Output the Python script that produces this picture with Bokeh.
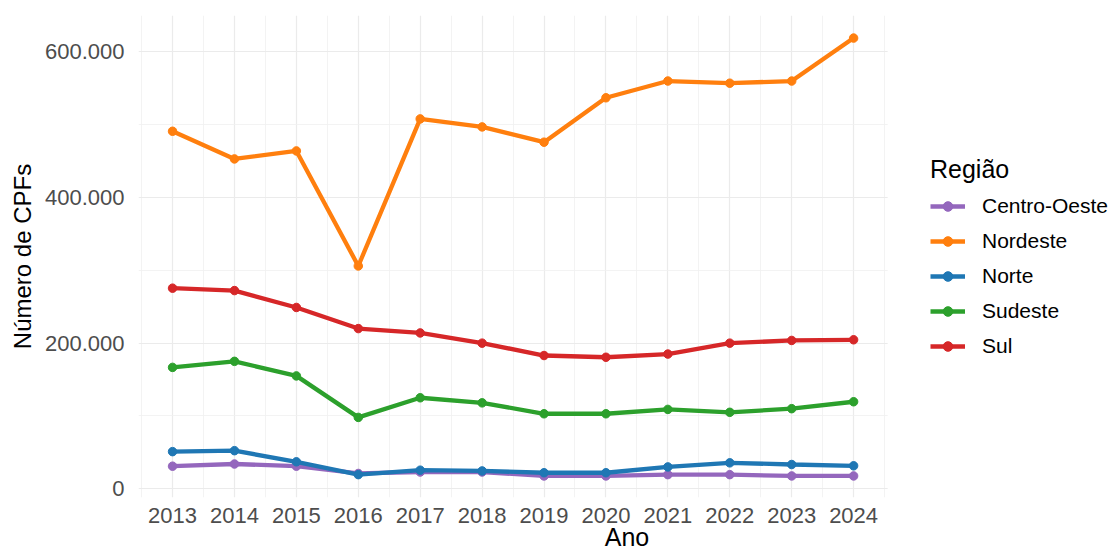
from bokeh.plotting import figure
from bokeh.models import FixedTicker, Legend, LegendItem, Range1d, ColumnDataSource, BoxAnnotation
from bokeh.embed import file_html
from bokeh.resources import INLINE

years = [2013, 2014, 2015, 2016, 2017, 2018, 2019, 2020, 2021, 2022, 2023, 2024]
centro_oeste = [31000, 34000, 31000, 21000, 23000, 23000, 17600, 17600, 19400, 19400, 17600, 17600]
nordeste = [491000, 453000, 464000, 306000, 508000, 497000, 476000, 537000, 560000, 557000, 560000, 619000]
norte = [51000, 52300, 37000, 19400, 25500, 24500, 22000, 22000, 30000, 35600, 33300, 31500]
sudeste = [166700, 175000, 155000, 98000, 125000, 118000, 103000, 103000, 109000, 105000, 110000, 119500]
sul = [275500, 272200, 249000, 220000, 214000, 200000, 183000, 180600, 185000, 200000, 203700, 204600]

regions = ["Centro-Oeste", "Nordeste", "Norte", "Sudeste", "Sul"]
series = [centro_oeste, nordeste, norte, sudeste, sul]
colors = ["#9467bd", "#ff7f0e", "#1f77b4", "#2ca02c", "#d62728"]

y_ticks = [0, 200000, 400000, 600000]
y_tick_labels = ["0", "200.000", "400.000", "600.000"]
y_minor = [100000, 300000, 500000]
x_minor = [y + 0.5 for y in [2012] + years]

FONT = "Liberation Sans"
X_START, X_PANEL_END = 2012.45, 2024.55
X_END = 2028.23  # extra room on the right holds the legend

p = figure(width=1115, height=553, output_backend="svg", toolbar_location=None,
           x_range=Range1d(X_START, X_END), y_range=Range1d(-12000, 650000),
           min_border_left=138, min_border_right=0, min_border_top=15, min_border_bottom=56)
p.outline_line_color = None
p.background_fill_color = "white"

# blank out the grid to the right of the panel (legend area)
p.add_layout(BoxAnnotation(left=X_PANEL_END, fill_color="white", fill_alpha=1.0,
                           line_color=None, level="underlay"))

items = []
for name, vals, c in zip(regions, series, colors):
    src = ColumnDataSource(dict(x=years, y=vals))
    lr = p.line("x", "y", source=src, line_color=c, line_width=4.3)
    sr = p.scatter("x", "y", source=src, size=8.5, fill_color=c, line_color=c)
    items.append(LegendItem(label=name, renderers=[lr, sr]))

p.xaxis.ticker = FixedTicker(ticks=years, minor_ticks=x_minor)
p.yaxis.ticker = FixedTicker(ticks=y_ticks, minor_ticks=y_minor)
p.yaxis.major_label_overrides = {t: l for t, l in zip(y_ticks, y_tick_labels)}
p.xaxis.major_label_overrides = {y: str(y) for y in years}

for ax in (p.xaxis, p.yaxis):
    ax.axis_line_color = None
    ax.major_tick_line_color = None
    ax.minor_tick_line_color = None
    ax.major_label_text_font = FONT
    ax.major_label_text_font_size = "22px"
    ax.major_label_text_color = "#4d4d4d"
    ax.axis_label_text_font = FONT
    ax.axis_label_text_font_style = "normal"
    ax.axis_label_text_color = "black"

p.xaxis.axis_label = "Ano"
p.yaxis.axis_label = "Número de CPFs"
p.xaxis.axis_label_text_font_size = "25px"
p.yaxis.axis_label_text_font_size = "24px"
p.xaxis.major_label_standoff = 4
p.xaxis.axis_label_standoff = -3
p.yaxis.major_label_standoff = 8
p.yaxis.axis_label_standoff = 6

for g in (p.xgrid, p.ygrid):
    g.grid_line_color = "#ebebeb"
    g.grid_line_width = 1.2
    g.minor_grid_line_color = "#f0f0f0"
    g.minor_grid_line_width = 0.8
    g.level = "underlay"

legend = Legend(items=items, title="Região", location=(792, 139),
                border_line_color=None, background_fill_alpha=0,
                title_text_font=FONT, title_text_font_size="25px", title_text_font_style="normal",
                title_text_color="black", title_standoff=10,
                label_text_font=FONT, label_text_font_size="21px", label_text_color="black",
                glyph_width=35, glyph_height=24, label_height=24, spacing=11, label_standoff=17,
                padding=0, margin=0)
p.add_layout(legend, "center")

open("out.html", "w").write(file_html(p, INLINE))
